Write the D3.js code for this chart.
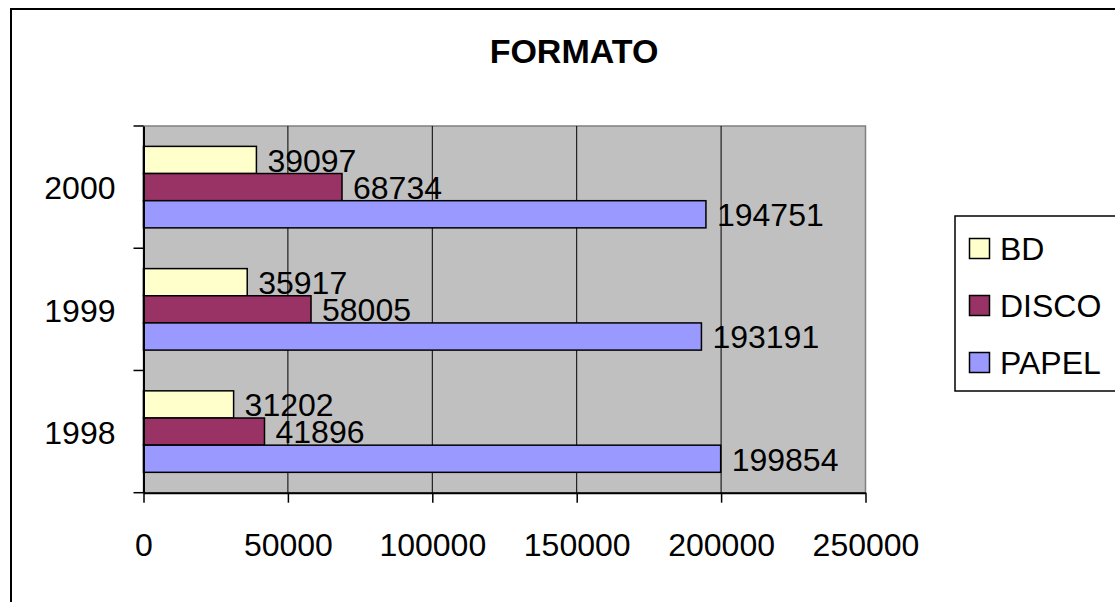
<!DOCTYPE html>
<html>
<head>
<meta charset="utf-8">
<script src="https://cdn.jsdelivr.net/npm/d3@7"></script>
<style>
  body { margin: 0; background: #fff; }
  text { font-family: "Liberation Sans", Arial, sans-serif; fill: #000; }
</style>
</head>
<body>
<div id="chart"></div>
<script>
// FORMATO - horizontal clustered bars

//////////
// data //
//////////

const years = ["2000", "1999", "1998"];           // top to bottom
const series = ["BD", "DISCO", "PAPEL"];
const bdValues    = [39097, 35917, 31202];
const discoValues = [68734, 58005, 41896];
const papelValues = [194751, 193191, 199854];
const xTicks = [0, 50000, 100000, 150000, 200000, 250000];
const seriesColors = ["#FFFFCC", "#993366", "#9999FF"];

///////////////
// constants //
///////////////

const chartWidth = 1115;
const chartHeight = 602;

const plotLeft = 143.5;
const plotRight = 865.5;
const plotTop = 126;
const plotBottom = 492.7;

const fontSize = 32;

var svg = d3.select("#chart").append("svg")
    .attr("width", chartWidth)
    .attr("height", chartHeight);

var xScale = d3.scaleLinear()
    .domain([0, 250000])
    .range([plotLeft, plotRight]);

var yScale = d3.scaleBand()
    .domain(years)
    .range([plotTop, plotBottom]);

// excel gap width 150% -> outer padding of .75 bar
var seriesScale = d3.scaleBand()
    .domain(series)
    .range([0, yScale.bandwidth()])
    .paddingInner(0)
    .paddingOuter(0.75);

var colorScale = d3.scaleOrdinal().domain(series).range(seriesColors);

var rows = years.map(function(year, i) {
	return {
		year: year,
		values: [
			{ key: "BD", value: bdValues[i] },
			{ key: "DISCO", value: discoValues[i] },
			{ key: "PAPEL", value: papelValues[i] }
		]
	};
});

////////////////
// draw image //
////////////////

// outer chart border (runs off the page right and bottom)
svg.append("rect")
    .attr("x", 11)
    .attr("y", 9)
    .attr("width", 1300)
    .attr("height", 800)
    .attr("fill", "#fff")
    .attr("stroke", "#000")
    .attr("stroke-width", 2);

// title
svg.append("text")
    .attr("x", 574)
    .attr("y", 63)
    .attr("text-anchor", "middle")
    .style("font-size", "34px")
    .style("font-weight", "bold")
    .text("FORMATO");

// plot background
svg.append("rect")
    .attr("x", plotLeft)
    .attr("y", plotTop)
    .attr("width", plotRight - plotLeft)
    .attr("height", plotBottom - plotTop)
    .attr("fill", "#C0C0C0")
    .attr("stroke", "#808080")
    .attr("stroke-width", 1.5);

// gridlines
svg.append("g")
    .selectAll("line")
    .data(xTicks.slice(1, -1))
    .join("line")
    .attr("x1", d => xScale(d))
    .attr("x2", d => xScale(d))
    .attr("y1", plotTop)
    .attr("y2", plotBottom)
    .attr("stroke", "#000")
    .attr("stroke-width", 1);

// bars
var groups = svg.append("g")
    .selectAll("g")
    .data(rows)
    .join("g")
    .attr("transform", d => "translate(0," + yScale(d.year) + ")");

groups.selectAll("rect")
    .data(d => d.values)
    .join("rect")
    .attr("x", xScale(0))
    .attr("y", d => seriesScale(d.key))
    .attr("width", d => xScale(d.value) - xScale(0))
    .attr("height", seriesScale.bandwidth())
    .attr("fill", d => colorScale(d.key))
    .attr("stroke", "#000")
    .attr("stroke-width", 1.5);

groups.selectAll("text")
    .data(d => d.values)
    .join("text")
    .attr("x", d => xScale(d.value) + 11)
    .attr("y", d => seriesScale(d.key) + seriesScale.bandwidth() / 2)
    .attr("dy", "0.37em")
    .style("font-size", fontSize + "px")
    .text(d => d.value);

// x axis
var xAxis = svg.append("g")
    .attr("transform", "translate(0," + plotBottom + ")")
    .call(d3.axisBottom(xScale)
        .tickValues(xTicks)
        .tickFormat(d3.format("d"))
        .tickSize(10)
        .tickSizeOuter(0)
        .tickPadding(31));
xAxis.select(".domain").attr("stroke", "#000").attr("stroke-width", 2);
xAxis.selectAll(".tick line").attr("stroke", "#000").attr("stroke-width", 1.5);
xAxis.selectAll(".tick text")
    .style("font-size", fontSize + "px")
    .style("font-family", "'Liberation Sans', Arial, sans-serif");

// y axis
var yAxis = svg.append("g")
    .attr("transform", "translate(" + plotLeft + ",0)")
    .call(d3.axisLeft(yScale).tickSize(0).tickPadding(28));
yAxis.select(".domain").attr("stroke", "#000").attr("stroke-width", 2);
yAxis.selectAll(".tick text")
    .attr("dy", "0.38em")
    .style("font-size", fontSize + "px")
    .style("font-family", "'Liberation Sans', Arial, sans-serif");

// category boundary ticks
var boundaries = years.map(d => yScale(d)).concat([plotBottom]);
yAxis.append("g")
    .selectAll("line")
    .data(boundaries)
    .join("line")
    .attr("x1", -10)
    .attr("x2", 0)
    .attr("y1", d => d)
    .attr("y2", d => d)
    .attr("stroke", "#000")
    .attr("stroke-width", 1.5);

// legend
var legend = svg.append("g");
legend.append("rect")
    .attr("x", 955)
    .attr("y", 216)
    .attr("width", 300)
    .attr("height", 175)
    .attr("fill", "#fff")
    .attr("stroke", "#000")
    .attr("stroke-width", 1.5);

var legendY = d3.scalePoint().domain(series).range([248, 362]);

var items = legend.selectAll("g.item")
    .data(series)
    .join("g")
    .attr("class", "item")
    .attr("transform", d => "translate(0," + legendY(d) + ")");

items.append("rect")
    .attr("x", 969.5)
    .attr("y", -9.5)
    .attr("width", 20)
    .attr("height", 20)
    .attr("fill", d => colorScale(d))
    .attr("stroke", "#000")
    .attr("stroke-width", 1.5);

items.append("text")
    .attr("x", 1000)
    .attr("y", 0)
    .attr("dy", "0.36em")
    .style("font-size", fontSize + "px")
    .text(d => d);
</script>
</body>
</html>
